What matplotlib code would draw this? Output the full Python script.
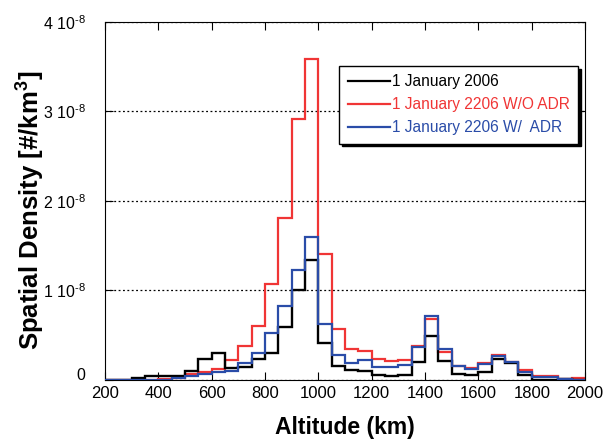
import numpy as np
import matplotlib
matplotlib.use('Agg')
import matplotlib.pyplot as plt

plt.rcParams['font.family'] = ['Liberation Sans', 'DejaVu Sans']
plt.rcParams['mathtext.fontset'] = 'custom'
plt.rcParams['mathtext.rm'] = 'Liberation Sans'
plt.rcParams['mathtext.bf'] = 'Liberation Sans:bold'

# altitude bin edges (km), 50 km bins
edges = np.arange(200, 2001, 50)

# spatial density per bin, in units of 1e-8 #/km^3
jan2006 = [0.005, 0.005, 0.02, 0.04, 0.045, 0.05, 0.10, 0.24, 0.30, 0.13,
           0.15, 0.23, 0.30, 0.59, 1.00, 1.345, 0.415, 0.16, 0.11, 0.10,
           0.06, 0.05, 0.06, 0.20, 0.49, 0.21, 0.07, 0.06, 0.09, 0.23,
           0.19, 0.06, 0.005, 0.005, 0.01, 0.005]
jan2206_no_adr = [0.0, 0.0, 0.0, 0.0, 0.013, 0.02, 0.07, 0.09, 0.125, 0.22,
                  0.385, 0.60, 1.07, 1.81, 2.91, 3.58, 1.41, 0.57, 0.35, 0.32,
                  0.23, 0.21, 0.22, 0.385, 0.68, 0.31, 0.16, 0.13, 0.19, 0.28,
                  0.20, 0.11, 0.05, 0.04, 0.015, 0.025]
jan2206_adr = [0.0, 0.0, 0.0, 0.0, 0.005, 0.02, 0.05, 0.065, 0.09, 0.10,
               0.19, 0.30, 0.53, 0.83, 1.23, 1.60, 0.62, 0.28, 0.19, 0.22,
               0.14, 0.14, 0.17, 0.37, 0.72, 0.35, 0.16, 0.125, 0.18, 0.265,
               0.20, 0.09, 0.035, 0.03, 0.015, 0.005]

scale = 1e-8
yticks = [0, 1e-8, 2e-8, 3e-8, 4e-8]
ytick_labels = ['0', '1 10$^{\u20108}$', '2 10$^{\u20108}$',
                '3 10$^{\u20108}$', '4 10$^{\u20108}$']

red = '#f03535'
blue = '#2a4ca8'

fig = plt.figure(figsize=(6.07, 4.46), dpi=100)
ax = fig.add_axes([0.173, 0.148, 0.791, 0.803])

h_red = ax.stairs(np.array(jan2206_no_adr) * scale, edges, color=red, lw=1.6,
                  label='1 January 2206 W/O ADR', zorder=2)
h_blk = ax.stairs(np.array(jan2006) * scale, edges, color='black', lw=1.7,
                  label='1 January 2006', zorder=3)
h_blu = ax.stairs(np.array(jan2206_adr) * scale, edges, color=blue, lw=1.6,
                  label='1 January 2206 W/  ADR', zorder=4)

ax.set_xlim(200, 2000)
ax.set_ylim(0, 4e-8)
ax.set_xticks(np.arange(200, 2001, 200))
ax.set_yticks(yticks, ytick_labels)
ax.yaxis.grid(True, linestyle=(0, (1.5, 2)), color='black', lw=0.9)
ax.tick_params(direction='in', top=True, right=True, length=6, labelsize=12)
ax.tick_params(axis='y', labelsize=11.5, pad=14)
ax.tick_params(axis='x', pad=4)
ax.get_yticklabels()[0].set_verticalalignment('baseline')

ax.set_xlabel('Altitude (km)', fontsize=16.5, fontweight='bold', labelpad=11)
ax.set_ylabel('Spatial Density [#/km$^\\mathbf{3}$]', fontsize=18.5,
              fontweight='bold', va='center')
ax.yaxis.set_label_coords(-0.158, 0.475)

leg = ax.legend(handles=[h_blk, h_red, h_blu], loc='upper right',
                bbox_to_anchor=(0.985, 0.877), borderaxespad=0, fontsize=11.2,
                frameon=True, fancybox=False, edgecolor='black', framealpha=1,
                shadow={'color': 'black', 'alpha': 1}, handlelength=2.7,
                handletextpad=0.1, borderpad=0.55, labelspacing=0.5)
leg.get_frame().set_linewidth(1.0)
for txt, c in zip(leg.get_texts(), ['black', red, blue]):
    txt.set_color(c)
for line in leg.get_lines():
    line.set_linewidth(1.6)

fig.savefig('out.png', dpi=100)
